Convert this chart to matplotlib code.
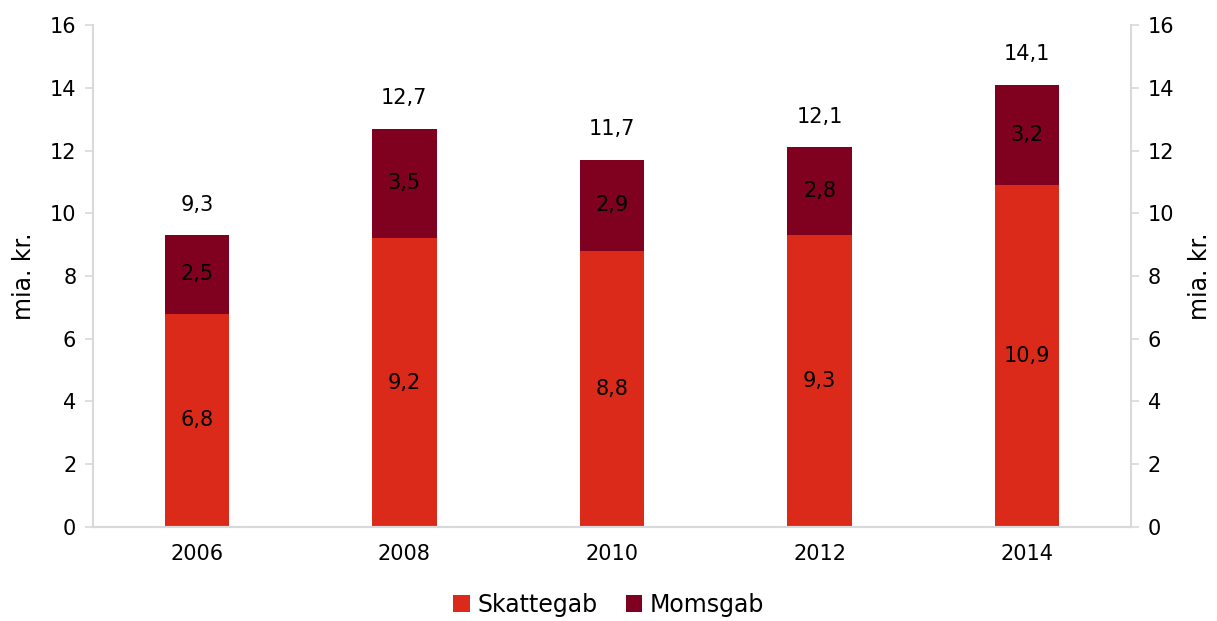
import matplotlib.pyplot as plt
import numpy as np

years = ['2006', '2008', '2010', '2012', '2014']
skattegab = [6.8, 9.2, 8.8, 9.3, 10.9]
momsgab = [2.5, 3.5, 2.9, 2.8, 3.2]
totals = [9.3, 12.7, 11.7, 12.1, 14.1]

plt.rcParams['font.family'] = ['DejaVu Sans']
red = '#DC2A1A'
wine = '#800020'
grey = '#D9D9D9'

def fmt(v):
    return ('%.1f' % v).replace('.', ',')

fig = plt.figure(figsize=(12.17, 6.21), dpi=100)
ax = fig.add_axes([0.0764, 0.1514, 0.8529, 0.8083])
x = np.arange(len(years))
w = 0.31

b1 = ax.bar(x, skattegab, w, color=red, label='Skattegab')
b2 = ax.bar(x, momsgab, w, bottom=skattegab, color=wine, label='Momsgab')

for i in range(len(years)):
    ax.text(x[i], skattegab[i] / 2, fmt(skattegab[i]), ha='center', va='center', fontsize=15)
    ax.text(x[i], skattegab[i] + momsgab[i] / 2, fmt(momsgab[i]), ha='center', va='center', fontsize=15)
    ax.annotate(fmt(totals[i]), (x[i], skattegab[i] + momsgab[i]), xytext=(0, 22),
                textcoords='offset points', ha='center', va='center', fontsize=15)

ax.set_xlim(-0.5, 4.5)
ax.set_ylim(0, 16)
ax.set_yticks(range(0, 17, 2))
ax.set_xticks(x)
ax.set_xticklabels(years)
ax.set_ylabel('mia. kr.', fontsize=17, labelpad=10)

ax2 = ax.twinx()
ax2.set_ylim(0, 16)
ax2.set_yticks(range(0, 17, 2))
ax2.set_ylabel('mia. kr.', fontsize=17, labelpad=10)

for a in (ax, ax2):
    for s in a.spines.values():
        s.set_color(grey)
        s.set_linewidth(1.5)
    a.spines['top'].set_visible(False)
    a.tick_params(axis='y', colors=grey, labelcolor='black', labelsize=15, length=6, width=1.2, pad=6)
ax.spines['right'].set_visible(False)
ax2.spines['left'].set_visible(False)
ax.tick_params(axis='x', length=0, labelsize=15, pad=12)

fig.legend(handles=[b1, b2], loc='center', bbox_to_anchor=(0.5, 0.026), ncol=2, frameon=False,
           fontsize=17, handlelength=0.7, handleheight=0.7, handletextpad=0.3, columnspacing=1.2)

fig.savefig('out.png', dpi=100)
